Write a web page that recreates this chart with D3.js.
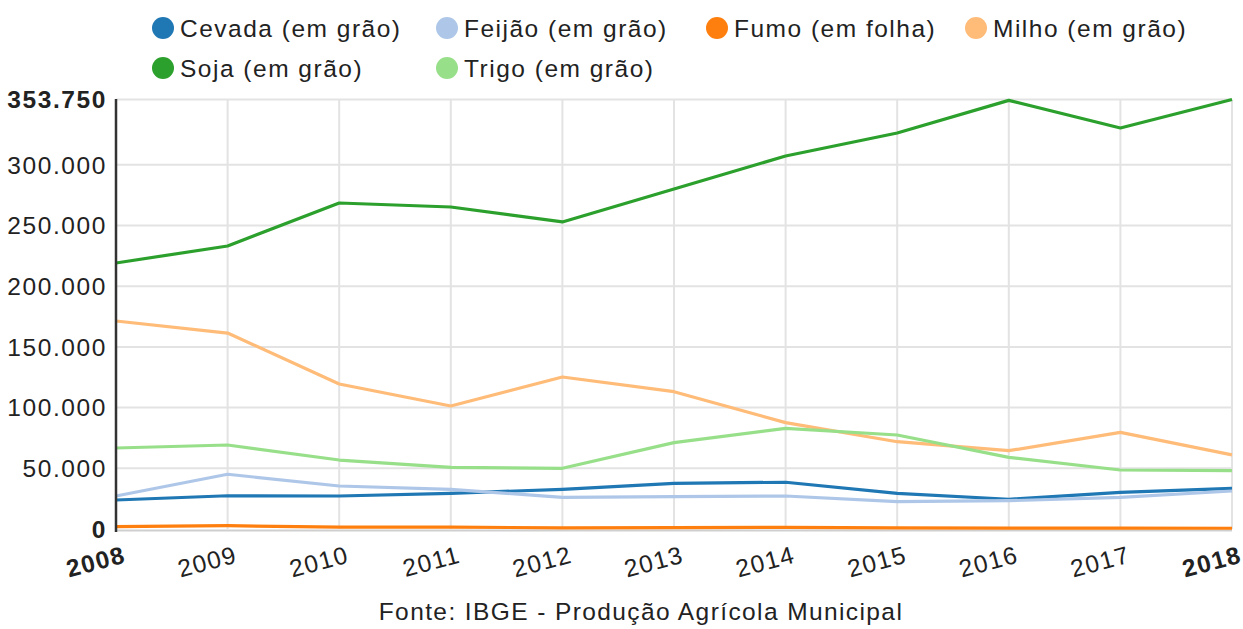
<!DOCTYPE html>
<html><head><meta charset="utf-8">
<script src="https://cdn.jsdelivr.net/npm/d3@7"></script>
<style>
body{margin:0;background:#fff;}
text{font-family:"Liberation Sans",Arial,sans-serif;}
</style></head>
<body><svg id="c" width="1243" height="629"></svg>
<script>
const years = [2008,2009,2010,2011,2012,2013,2014,2015,2016,2017,2018];
const seriesNames = ["Cevada (em grão)","Feijão (em grão)","Fumo (em folha)","Milho (em grão)","Soja (em grão)","Trigo (em grão)"];
const colors = ["#1f77b4","#aec7e8","#ff7f0e","#ffbb78","#2ca02c","#98df8a"];
const cevada = [23900,27400,27200,29400,32700,37600,38500,29400,24500,30200,33500];
const feijao = [27200,45100,35400,32700,26100,26600,27200,22500,23300,26100,31300];
const fumo   = [1900,2700,1600,1500,1000,1200,1300,900,800,700,600];
const milho  = [171300,161400,119400,101300,125200,113100,87600,71900,64500,79600,61000];
const soja   = [219100,233100,268500,265200,252900,280100,307200,326200,353000,330300,353750];
const trigo  = [66700,69200,56800,50800,50000,71100,82900,77400,59000,48600,48000];
const yTicks = [0,50000,100000,150000,200000,250000,300000,353750];
const sourceText = "Fonte: IBGE - Produção Agrícola Municipal";

const allSeries = [cevada,feijao,fumo,milho,soja,trigo];
const svg = d3.select("#c");
const x = d3.scalePoint().domain(years).range([116,1232]);
const y = d3.scaleLinear().domain([0,353750]).range([529,99.5]);
const fmt = v => d3.format(",")(v).replace(/,/g,".");

// gridlines
const g = svg.append("g");
g.selectAll(".hg").data(yTicks.filter(t=>t>0)).join("line")
  .attr("x1",116).attr("x2",1232).attr("y1",d=>y(d)).attr("y2",d=>y(d))
  .attr("stroke","#e3e3e3").attr("stroke-width",2);
g.selectAll(".vg").data(years.slice(1)).join("line")
  .attr("x1",d=>x(d)).attr("x2",d=>x(d)).attr("y1",y(353750)).attr("y2",529)
  .attr("stroke","#e3e3e3").attr("stroke-width",2);
// bottom baseline
svg.append("line").attr("x1",116).attr("x2",1232).attr("y1",530.5).attr("y2",530.5)
  .attr("stroke","#cfcfcf").attr("stroke-width",2);

// y tick labels
svg.selectAll(".yl").data(yTicks).join("text")
  .attr("x",107).attr("y",d=>y(d)).attr("dy","0.36em")
  .attr("text-anchor","end").attr("font-size",24.5).attr("letter-spacing","1.6px")
  .attr("font-weight",(d,i)=> (i===0||i===yTicks.length-1)?"bold":"normal")
  .attr("fill","#222").text(fmt);

// x tick labels
svg.selectAll(".xl").data(years).join("text")
  .attr("transform",d=>`translate(${x(d)+11},${562}) rotate(-15)`)
  .attr("text-anchor","end").attr("font-size",24.5).attr("letter-spacing","1.4px")
  .attr("font-weight",(d,i)=> (i===0||i===years.length-1)?"bold":"normal")
  .attr("fill","#222").text(d=>d);

// lines
const line = d3.line().x((d,i)=>x(years[i])).y(d=>y(d));
svg.selectAll(".ln").data(allSeries).join("path")
  .attr("d",line).attr("fill","none")
  .attr("stroke",(d,i)=>colors[i]).attr("stroke-width",3.2)
  .attr("stroke-linejoin","round");

// y axis line
svg.append("line").attr("x1",116).attr("x2",116).attr("y1",99).attr("y2",532)
  .attr("stroke","#333").attr("stroke-width",2.5);

// legend
const legPos = [[163,28],[447,28],[717,28],[976,28],[163,68],[447,68]];
const leg = svg.selectAll(".lg").data(seriesNames).join("g")
  .attr("transform",(d,i)=>`translate(${legPos[i][0]},${legPos[i][1]})`);
leg.append("circle").attr("r",11).attr("fill",(d,i)=>colors[i]);
leg.append("text").attr("x",17).attr("dy","0.36em").attr("font-size",24.5)
  .attr("letter-spacing","1.5px").attr("fill","#222").text(d=>d);

// source
svg.append("text").attr("x",641).attr("y",620).attr("text-anchor","middle")
  .attr("font-size",24.5).attr("letter-spacing","1.4px").attr("fill","#222").text(sourceText);
</script></body></html>
